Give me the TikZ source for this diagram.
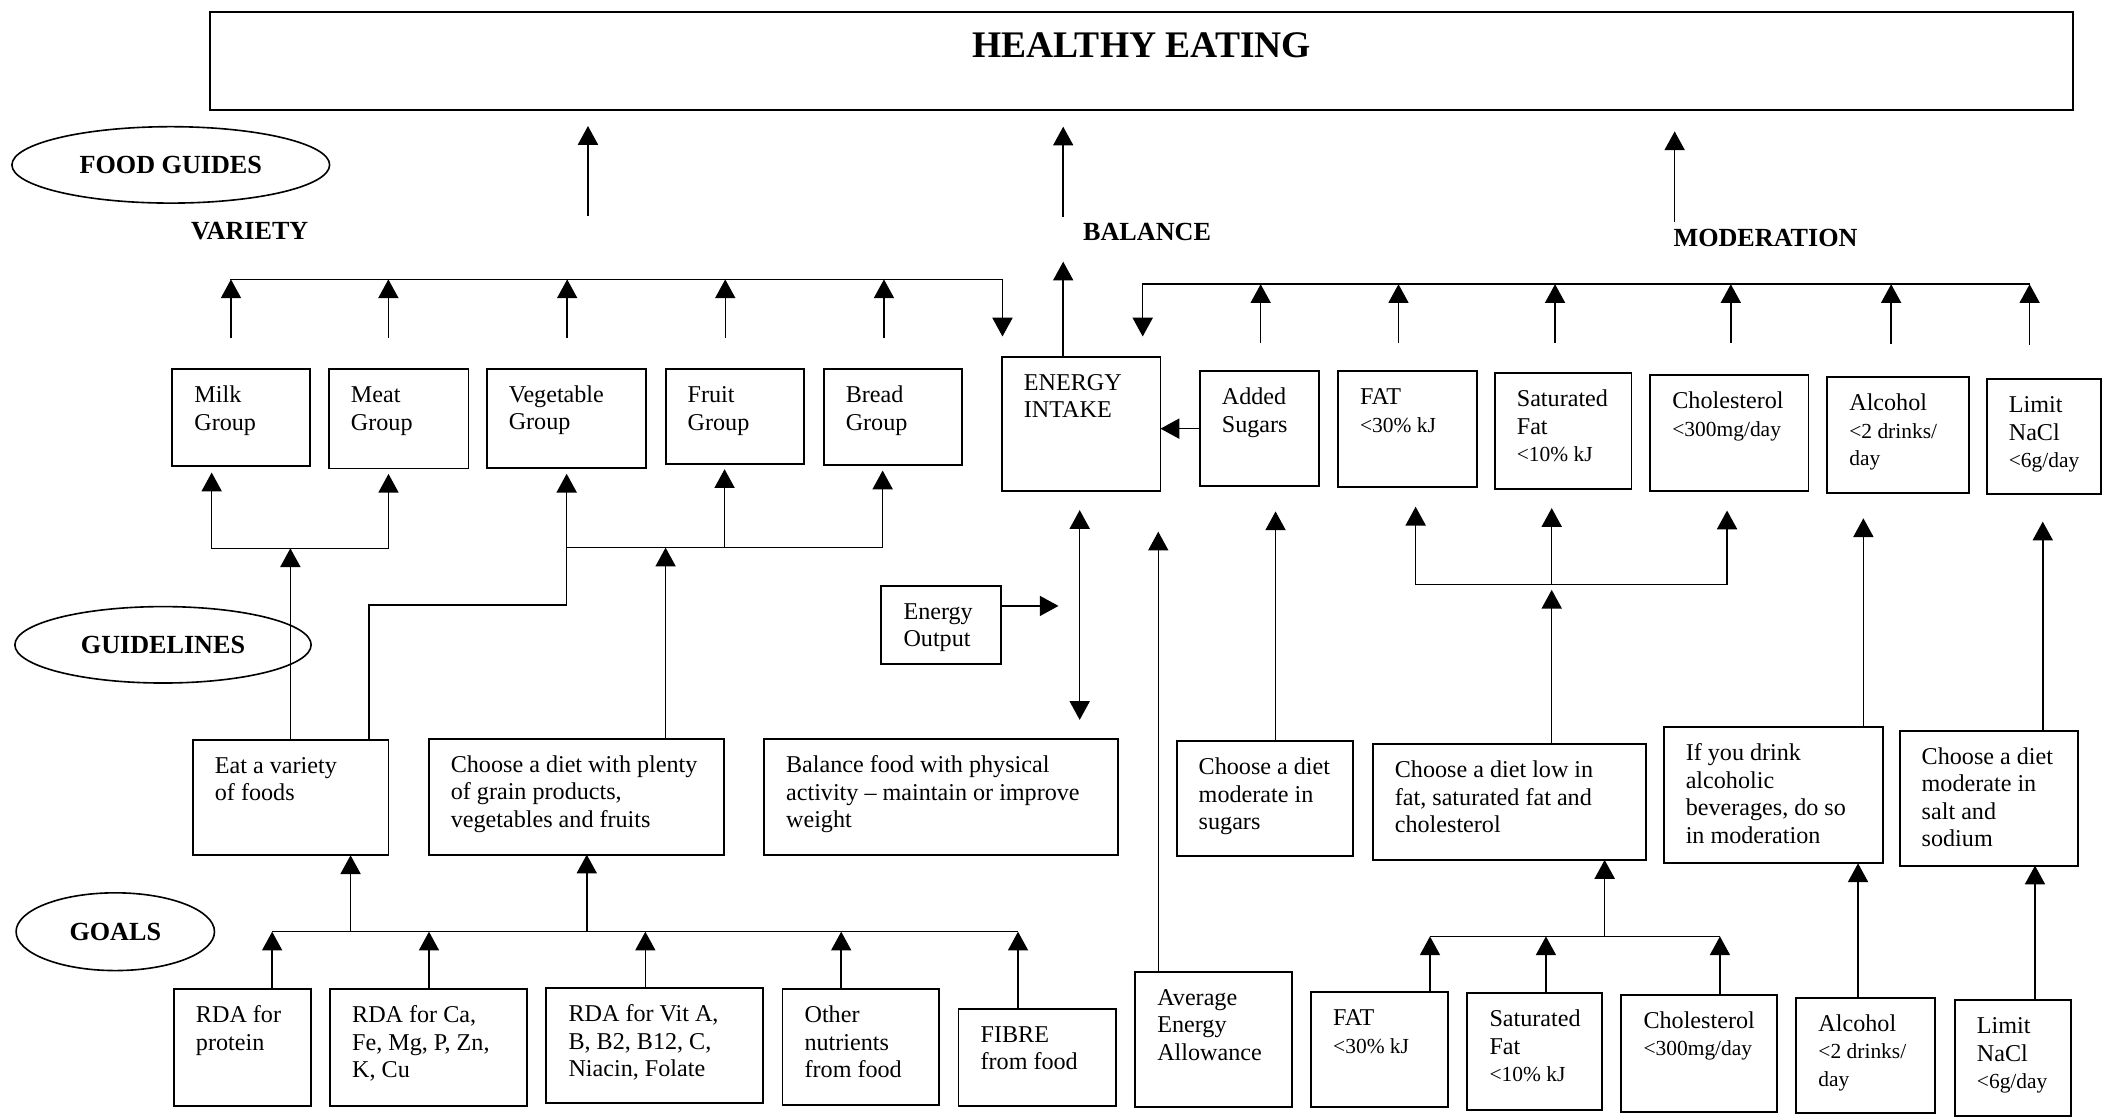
\documentclass[tikz,border=0pt]{standalone}
\usepackage{fontspec}
\setmainfont{Liberation Serif}
\usetikzlibrary{arrows.meta,shapes.geometric}
\newcommand{\bt}[3]{\parbox[t][#2pt][t]{#1pt}{\raggedright\leftskip=16.5pt\relax\fontsize{18}{20.5}\selectfont\rule{0pt}{25pt}#3}}
\newcommand{\sm}{\fontsize{16}{20.5}\selectfont}
\newcommand{\lb}{\fontsize{19.5}{22}\selectfont\bfseries}
\begin{document}
\begin{tikzpicture}[x=1pt,y=-1pt,
  >={Triangle[length=14pt,width=15pt]},
  box/.style={draw,line width=1.4pt,inner sep=0pt,outer sep=0pt,anchor=north west},
  ln/.style={line width=1.1pt},
  arr/.style={ln,->},
  oval/.style={draw,ellipse,line width=1.2pt,inner sep=0pt,font=\lb},
  lab/.style={anchor=base west,inner sep=0pt,font=\lb}]

\fill[white] (0,0) rectangle (1568,835);
\useasboundingbox (0,0) rectangle (1568,835);

% title
\node[box] (title) at (156.5,9) {\parbox[t][73pt][t]{1390pt}{\centering\fontsize{28}{30}\selectfont\bfseries\rule{0pt}{33.8pt}HEALTHY EATING}};

% ovals and labels
\node[oval,minimum width=237pt,minimum height=57pt] (fg) at (127.4,123) {FOOD GUIDES};
\node[oval,minimum width=221pt,minimum height=57pt] (gl) at (121.6,481) {GUIDELINES};
\node[oval,minimum width=148pt,minimum height=58pt] (go) at (86,695) {GOALS};
\node[lab] (var) at (142.4,179) {VARIETY};
\node[lab] (balt) at (807.8,179.5) {BALANCE};
\node[lab] (mod) at (1248.2,184) {MODERATION};

% top row
\node[box] (milk) at (128.5,275.5) {\bt{102.5}{72}{Milk\\Group}};
\node[box] (meat) at (245.3,275.5) {\bt{104.2}{74}{Meat\\Group}};
\node[box] (veg) at (363,275) {\bt{119.1}{74.4}{Vegetable\\Group}};
\node[box] (fruit) at (496.5,275.3) {\bt{103.5}{70.7}{Fruit\\Group}};
\node[box] (bread) at (614.4,275.3) {\bt{103.4}{71.7}{Bread\\Group}};
\node[box] (ei) at (747.3,266) {\bt{118.4}{100.5}{ENERGY\\INTAKE}};
\node[box] (add) at (895,277) {\bt{89}{85.5}{Added\\Sugars}};
\node[box] (fat) at (998,277) {\bt{104}{86}{FAT\\{\sm <30\% kJ}}};
\node[box] (sat) at (1115,278.5) {\bt{102}{86.5}{Saturated\\Fat\\{\sm <10\% kJ}}};
\node[box] (chol) at (1231,280) {\bt{118}{86.3}{Cholesterol\\{\sm <300mg/day}}};
\node[box] (alc) at (1363,281.5) {\bt{105.5}{86.5}{Alcohol\\{\sm <2 drinks/}\\{\sm day}}};
\node[box] (lim) at (1482,283) {\bt{85}{85.7}{Limit\\NaCl\\{\sm <6g/day}}};

\node[box] (eo) at (657.5,437.1) {\bt{89}{58.2}{Energy\\Output}};

% guidelines row
\node[box] (eat) at (143.8,552) {\bt{146}{86}{Eat a variety\\of foods}};
\node[box] (plenty) at (319.8,551) {\bt{220.5}{86.5}{Choose a diet with plenty\\of grain products,\\vegetables and fruits}};
\node[box] (bal) at (569.9,551.5) {\bt{264.1}{86.3}{Balance food with physical\\activity – maintain or improve\\weight}};
\node[box] (msug) at (877.7,553) {\bt{131.8}{85.5}{Choose a diet\\moderate in\\sugars}};
\node[box] (lowfat) at (1024,555) {\bt{203.5}{86.5}{Choose a diet low in\\fat, saturated fat and\\cholesterol}};
\node[box] (drink) at (1241,542.5) {\bt{163.4}{101.5}{If you drink\\alcoholic\\beverages, do so\\in moderation}};
\node[box] (salt) at (1417,545) {\bt{133}{100.7}{Choose a diet\\moderate in\\salt and\\sodium}};

% goals row
\node[box] (prot) at (129.7,738) {\bt{102.3}{87}{RDA for\\protein}};
\node[box] (ca) at (246.2,738) {\bt{146.6}{87}{RDA for Ca,\\Fe, Mg, P, Zn,\\K, Cu}};
\node[box] (vita) at (407.6,737.3) {\bt{161.4}{85.7}{RDA for Vit A,\\B, B2, B12, C,\\Niacin, Folate}};
\node[box] (oth) at (583.7,738) {\bt{116.6}{86}{Other\\nutrients\\from food}};
\node[box] (fib) at (715,752.5) {\bt{117.3}{72.5}{FIBRE\\from food}};
\node[box] (aea) at (846.8,724.8) {\bt{117.2}{100.7}{Average\\Energy\\Allowance}};
\node[box] (gfat) at (978,740.2) {\bt{102.3}{85.8}{FAT\\{\sm <30\% kJ}}};
\node[box] (gsat) at (1094.6,741) {\bt{100.1}{87}{Saturated\\Fat\\{\sm <10\% kJ}}};
\node[box] (gchol) at (1209.5,742) {\bt{116.1}{87.7}{Cholesterol\\{\sm <300mg/day}}};
\node[box] (galc) at (1340,744.2) {\bt{103.2}{86.3}{Alcohol\\{\sm <2 drinks/}\\{\sm day}}};
\node[box] (glim) at (1458.2,746) {\bt{86.6}{86.2}{Limit\\NaCl\\{\sm <6g/day}}};

% arrows to title
\coordinate (tv) at (438.6,161);
\coordinate (tb) at (793.1,161.6);
\coordinate (tm) at (1249.2,165.4);
\draw[arr,shorten >=12pt] (tv) -- (title.south -| tv);
\draw[arr,shorten >=12.5pt] (tb) -- (title.south -| tb);
\draw[arr,shorten >=16pt] (tm) -- (title.south -| tm);

% variety bracket
\foreach \n/\x in {1/172.3,2/289.7,3/423.1,4/541,5/659.4,6/747.8} \coordinate (vb\n) at (\x,208.4);
\draw[ln,line cap=rect] (vb1) -- (vb6);
\draw[arr,shorten <=23pt] (milk.north -| vb1) -- (vb1);
\draw[arr,shorten <=23pt] (meat.north -| vb2) -- (vb2);
\draw[arr,shorten <=23pt] (veg.north -| vb3) -- (vb3);
\draw[arr,shorten <=23pt] (fruit.north -| vb4) -- (vb4);
\draw[arr,shorten <=23pt] (bread.north -| vb5) -- (vb5);
\draw[arr,shorten >=15pt] (vb6) -- (ei.north -| vb6);

% balance
\coordinate (bb) at (793.1,195.2);
\draw[arr] (ei.north -| bb) -- (bb);

% moderation bracket
\foreach \n/\x in {0/852.4,1/940.4,2/1043.2,3/1160,4/1291.1,5/1410.7,6/1514} \coordinate (mb\n) at (\x,212);
\draw[ln,line cap=rect] (mb0) -- (mb6);
\draw[arr,shorten >=15pt] (mb0) -- (ei.north -| mb0);
\draw[arr,shorten <=21pt] (add.north -| mb1) -- (mb1);
\draw[arr,shorten <=21pt] (fat.north -| mb2) -- (mb2);
\draw[arr,shorten <=22.5pt] (sat.north -| mb3) -- (mb3);
\draw[arr,shorten <=24pt] (chol.north -| mb4) -- (mb4);
\draw[arr,shorten <=25pt] (alc.north -| mb5) -- (mb5);
\draw[arr,shorten <=26pt] (lim.north -| mb6) -- (mb6);

% added sugars to energy intake
\draw[arr] (add.west) -- (ei.east |- add.west);

% milk / meat
\coordinate (mm1) at (157.9,409);
\coordinate (mm2) at (289.8,409);
\coordinate (mmc) at (216.6,409);
\draw[ln,line cap=rect] (mm1) -- (mm2);
\draw[arr,shorten >=5pt] (mm1) -- (milk.south -| mm1);
\draw[arr,shorten >=4pt] (mm2) -- (meat.south -| mm2);
\draw[arr] (eat.north -| mmc) -- (mmc);

% vegetable / fruit / bread
\coordinate (vg1) at (422.7,408.5);
\coordinate (vg2) at (540.5,408.5);
\coordinate (vg3) at (658.4,408.5);
\coordinate (vgc) at (496.5,408.5);
\draw[ln,line cap=rect] (vg1) -- (vg3);
\draw[arr,shorten >=4pt] (vg1) -- (veg.south -| vg1);
\draw[arr,shorten >=4pt] (vg2) -- (fruit.south -| vg2);
\draw[arr,shorten >=4pt] (vg3) -- (bread.south -| vg3);
\draw[arr] (plenty.north -| vgc) -- (vgc);
\coordinate (ec) at (275.4,451.3);
\draw[ln] (eat.north -| ec) -- (ec) -| (vg1);

% energy output and balance
\coordinate (eoa) at (789.6,452);
\draw[arr] (eo.east |- eoa) -- (eoa);
\coordinate (da) at (805.4,0);
\draw[ln,<->,shorten <=14pt,shorten >=14.5pt] (ei.south -| da) -- (bal.north -| da);

% average energy allowance
\coordinate (aa) at (864,396.6);
\draw[arr] (aea.north -| aa) -- (aa);

% sugars
\coordinate (sa) at (951.5,0);
\draw[arr,shorten >=19pt] (msug.north -| sa) -- (add.south -| sa);

% fat bracket (upper)
\coordinate (fb1) at (1056,436);
\coordinate (fb2) at (1157.5,436);
\coordinate (fb3) at (1288.3,436);
\draw[ln,line cap=rect] (fb1) -- (fb3);
\draw[arr,shorten >=15pt] (fb1) -- (fat.south -| fb1);
\draw[arr,shorten >=14pt] (fb2) -- (sat.south -| fb2);
\draw[arr,shorten >=14.5pt] (fb3) -- (chol.south -| fb3);
\draw[arr,shorten >=4pt] (lowfat.north -| fb2) -- (fb2);

% alcohol, salt (upper)
\coordinate (al) at (1390,0);
\draw[arr,shorten >=18.6pt] (drink.north -| al) -- (alc.south -| al);
\coordinate (nl) at (1523.8,0);
\draw[arr,shorten >=20.4pt] (salt.north -| nl) -- (lim.south -| nl);

% goals bracket
\foreach \n/\x in {0/203,1/320,2/481.4,3/627.5,4/759.4} \coordinate (gb\n) at (\x,695);
\draw[ln] (gb0) -- (gb4);
\draw[arr] (prot.north -| gb0) -- (gb0);
\draw[arr] (ca.north -| gb1) -- (gb1);
\draw[arr] (vita.north -| gb2) -- (gb2);
\draw[arr] (oth.north -| gb3) -- (gb3);
\draw[arr] (fib.north -| gb4) -- (gb4);
\coordinate (gu1) at (261.5,695);
\coordinate (gu2) at (437.7,695);
\draw[arr] (gu1) -- (eat.south -| gu1);
\draw[arr] (gu2) -- (plenty.south -| gu2);

% fat bracket (lower)
\coordinate (fc1) at (1066.7,698.5);
\coordinate (fc2) at (1153.2,698.5);
\coordinate (fc3) at (1283,698.5);
\coordinate (fcc) at (1197,698.5);
\draw[ln] (fc1) -- (fc3);
\draw[arr] (gfat.north -| fc1) -- (fc1);
\draw[arr] (gsat.north -| fc2) -- (fc2);
\draw[arr] (gchol.north -| fc3) -- (fc3);
\draw[arr] (fcc) -- (lowfat.south -| fcc);

% alcohol, salt (lower)
\coordinate (al2) at (1386,0);
\draw[arr] (galc.north -| al2) -- (drink.south -| al2);
\coordinate (nl2) at (1518,0);
\draw[arr] (glim.north -| nl2) -- (salt.south -| nl2);
\end{tikzpicture}
\end{document}
